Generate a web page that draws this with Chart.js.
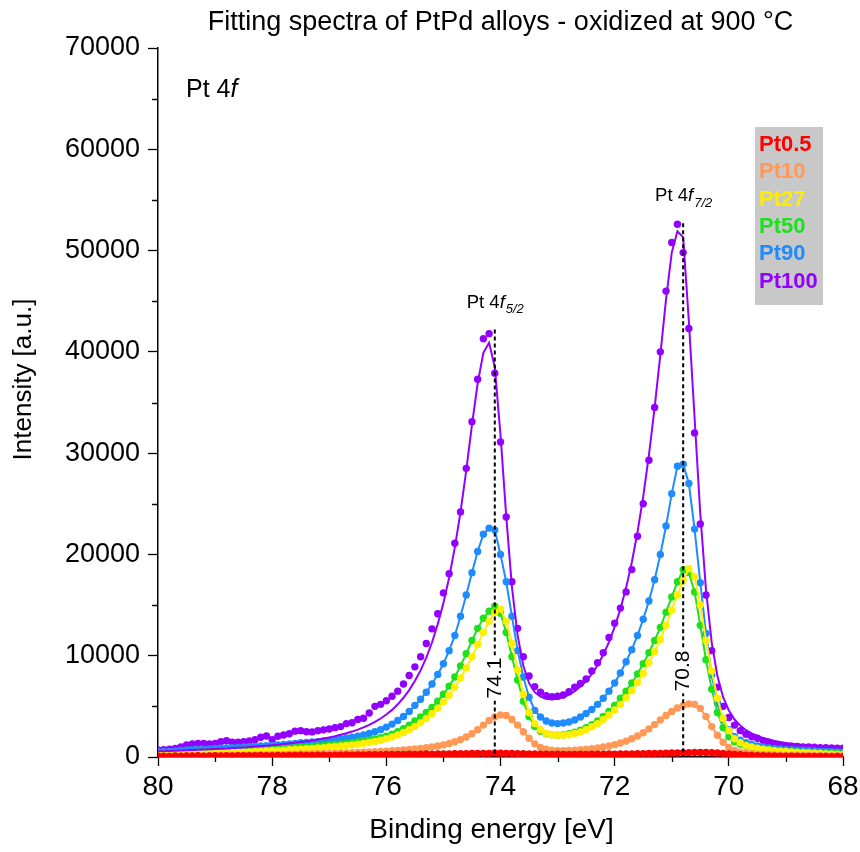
<!DOCTYPE html>
<html>
<head>
<meta charset="utf-8">
<title>Pt 4f spectra</title>
<script src="https://cdn.jsdelivr.net/npm/chart.js@4.4.1/dist/chart.umd.min.js"></script>
<style>
    body { margin: 0; background: #fff; }
    canvas { display: block; }
</style>
</head>
<body>
<canvas id="spectraChart" width="860" height="852"></canvas>
<script>
const FONT = "'Liberation Sans', Arial, sans-serif";

// Binding energy grid (eV), 0.1 eV steps
const energy = [
    80.0, 79.9, 79.8, 79.7, 79.6, 79.5, 79.4, 79.3, 79.2, 79.1,
    79.0, 78.9, 78.8, 78.7, 78.6, 78.5, 78.4, 78.3, 78.2, 78.1,
    78.0, 77.9, 77.8, 77.7, 77.6, 77.5, 77.4, 77.3, 77.2, 77.1,
    77.0, 76.9, 76.8, 76.7, 76.6, 76.5, 76.4, 76.3, 76.2, 76.1,
    76.0, 75.9, 75.8, 75.7, 75.6, 75.5, 75.4, 75.3, 75.2, 75.1,
    75.0, 74.9, 74.8, 74.7, 74.6, 74.5, 74.4, 74.3, 74.2, 74.1,
    74.0, 73.9, 73.8, 73.7, 73.6, 73.5, 73.4, 73.3, 73.2, 73.1,
    73.0, 72.9, 72.8, 72.7, 72.6, 72.5, 72.4, 72.3, 72.2, 72.1,
    72.0, 71.9, 71.8, 71.7, 71.6, 71.5, 71.4, 71.3, 71.2, 71.1,
    71.0, 70.9, 70.8, 70.7, 70.6, 70.5, 70.4, 70.3, 70.2, 70.1,
    70.0, 69.9, 69.8, 69.7, 69.6, 69.5, 69.4, 69.3, 69.2, 69.1,
    69.0, 68.9, 68.8, 68.7, 68.6, 68.5, 68.4, 68.3, 68.2, 68.1,
    68.0
];

// Measured intensities, one row per 2 eV block (80.0-78.1, 78.0-76.1, ..., 70.0-68.0)
const pt05 = [
    80, 90, 60, 100, 90, 110, 100, 120, 90, 110, 120, 100, 130, 110, 120, 140, 120, 130, 150, 130,
    140, 150, 140, 160, 150, 170, 150, 160, 180, 170, 160, 190, 180, 200, 190, 210, 200, 220, 230, 220,
    240, 250, 240, 260, 270, 260, 280, 290, 280, 300, 310, 300, 320, 330, 320, 340, 350, 340, 360, 380,
    370, 360, 350, 330, 320, 300, 290, 280, 270, 260, 270, 260, 250, 260, 270, 260, 270, 280, 270, 290,
    280, 300, 310, 300, 320, 330, 340, 350, 360, 380, 390, 400, 420, 430, 440, 450, 440, 420, 390, 350,
    300, 260, 220, 190, 160, 140, 130, 110, 100, 90, 80, 80, 70, 60, 60, 50, 60, 50, 40, 50, 40
];
const pt10 = [
    80, 90, 100, 100, 110, 120, 120, 130, 140, 140, 150, 160, 160, 170, 180, 190, 200, 210, 220, 230,
    240, 250, 260, 270, 280, 290, 300, 320, 330, 350, 360, 380, 390, 410, 430, 450, 470, 490, 520, 550,
    580, 610, 650, 690, 740, 790, 850, 920, 1000, 1090, 1200, 1340, 1510, 1720, 1980, 2300, 2700, 3150, 3600, 3950,
    4150, 4100, 3700, 3150, 2500, 1850, 1300, 950, 760, 660, 620, 620, 640, 670, 710, 760, 820, 890, 980, 1090,
    1220, 1380, 1570, 1800, 2080, 2400, 2780, 3200, 3650, 4100, 4500, 4850, 5100, 5250, 5200, 4800, 4000, 3000, 2150, 1450,
    950, 650, 480, 380, 320, 280, 250, 230, 210, 200, 190, 180, 170, 160, 160, 150, 150, 140, 140, 130, 130
];
const pt27 = [
    200, 210, 230, 250, 270, 290, 300, 320, 340, 360, 380, 400, 420, 440, 460, 490, 510, 540, 560, 590,
    620, 650, 680, 710, 740, 780, 810, 850, 890, 930, 980, 1030, 1080, 1140, 1200, 1270, 1350, 1440, 1540, 1660,
    1800, 1980, 2180, 2420, 2700, 3020, 3380, 3800, 4280, 4820, 5420, 6100, 6900, 7800, 8800, 9900, 11100, 12300, 13400, 14300,
    14600, 13400, 11200, 8600, 6200, 4400, 3300, 2700, 2350, 2200, 2150, 2150, 2200, 2320, 2480, 2700, 2980, 3300, 3700, 4150,
    4650, 5200, 5850, 6550, 7350, 8250, 9300, 10400, 11600, 13000, 14500, 16000, 17400, 18600, 17800, 15000, 11500, 8500, 5800, 3800,
    2600, 1800, 1400, 1150, 980, 860, 760, 690, 630, 580, 540, 500, 460, 430, 400, 370, 340, 310, 280, 250, 230
];
const pt50 = [
    330, 350, 370, 390, 410, 430, 450, 470, 500, 520, 540, 560, 590, 610, 630, 660, 690, 710, 740, 770,
    800, 830, 860, 890, 930, 960, 1000, 1040, 1090, 1130, 1180, 1230, 1290, 1350, 1420, 1500, 1580, 1670, 1780, 1900,
    2050, 2250, 2500, 2800, 3150, 3550, 3950, 4400, 4900, 5500, 6200, 7000, 7900, 9000, 10200, 11500, 12700, 13700, 14400, 14900,
    14200, 12300, 9900, 7600, 5500, 4000, 3000, 2550, 2300, 2200, 2150, 2200, 2300, 2450, 2650, 2900, 3200, 3550, 4000, 4500,
    5100, 5800, 6500, 7300, 8200, 9200, 10300, 11500, 12800, 14300, 15800, 17300, 18500, 18200, 16300, 13000, 9600, 6700, 4400, 2900,
    2000, 1500, 1250, 1080, 950, 850, 780, 720, 670, 620, 580, 550, 520, 490, 470, 450, 430, 410, 390, 380, 360
];
const pt90 = [
    520, 540, 560, 590, 640, 690, 720, 740, 770, 800, 840, 870, 900, 920, 950, 980, 1010, 1050, 1090, 1120,
    1150, 1200, 1250, 1300, 1350, 1400, 1440, 1480, 1520, 1580, 1640, 1700, 1780, 1870, 1960, 2060, 2180, 2330, 2500, 2700,
    2950, 3250, 3600, 4000, 4500, 5100, 5700, 6400, 7200, 8150, 9200, 10500, 12000, 13900, 16000, 18200, 20300, 22000, 22600, 22400,
    20000, 17300, 13900, 10500, 7900, 5900, 4600, 3950, 3550, 3350, 3300, 3350, 3450, 3650, 3950, 4300, 4700, 5200, 5800, 6500,
    7300, 8300, 9400, 10600, 12000, 13600, 15400, 17500, 20000, 22800, 26000, 28700, 28900, 27000, 22500, 17200, 12200, 8100, 5300, 3700,
    2700, 2000, 1650, 1400, 1250, 1100, 1000, 920, 850, 800, 750, 720, 690, 660, 640, 620, 600, 580, 560, 550, 530
];
const pt100 = [
    690, 720, 780, 850, 1000, 1200, 1300, 1350, 1330, 1280, 1350, 1500, 1600, 1450, 1450, 1500, 1580, 1700, 1950, 2070,
    1700, 2050, 2170, 2300, 2550, 2600, 2500, 2480, 2600, 2680, 2760, 2900, 3000, 3300, 3380, 3700, 3820, 4350, 5000, 5200,
    5550, 6000, 6500, 7200, 8050, 8900, 9900, 11200, 12650, 14150, 16200, 18100, 21100, 24200, 28500, 33100, 37300, 41300, 41800, 37900,
    31100, 23700, 17300, 12700, 9900, 8000, 6950, 6400, 6050, 5950, 6000, 6120, 6450, 6900, 7250, 7700, 8500, 9300, 10300, 11800,
    13200, 14700, 16300, 18500, 21800, 25000, 29300, 34500, 40000, 46000, 50800, 52600, 49800, 42300, 32000, 23000, 16000, 10500, 6900, 5000,
    3900, 3150, 2600, 2250, 2000, 1850, 1620, 1450, 1300, 1200, 1100, 1060, 1030, 1000, 980, 960, 930, 910, 890, 870, 860
];

// Fitted envelope for Pt100
const pt100Fit = [
    560, 580, 600, 620, 640, 660, 690, 710, 740, 760, 790, 820, 850, 880, 920, 950, 990, 1030, 1080, 1120,
    1170, 1220, 1280, 1340, 1400, 1470, 1550, 1630, 1720, 1820, 1930, 2050, 2190, 2340, 2510, 2700, 2920, 3170, 3460, 3800,
    4200, 4650, 5200, 5850, 6600, 7500, 8550, 9800, 11300, 13100, 15200, 17700, 20700, 24200, 28300, 32800, 36900, 39900, 40900, 38500,
    31800, 23800, 16800, 12000, 9000, 7300, 6400, 5950, 5750, 5700, 5750, 5900, 6150, 6500, 6950, 7500, 8200, 9050, 10100, 11350,
    12850, 14600, 16700, 19200, 22200, 25700, 29800, 34500, 39700, 45200, 49800, 51900, 51300, 43000, 33500, 24000, 16500, 11300, 8000, 5900,
    4600, 3700, 3100, 2650, 2330, 2080, 1880, 1720, 1590, 1480, 1390, 1310, 1240, 1180, 1130, 1080, 1040, 1000, 970, 940, 910
];

const sampleNames = ["Pt0.5", "Pt10", "Pt27", "Pt50", "Pt90", "Pt100"];
const sampleColors = ["#ff0000", "#ff9955", "#ffee00", "#1ee01e", "#1e8cff", "#9400ff"];
const sampleValues = [pt05, pt10, pt27, pt50, pt90, pt100];

// Peak positions (eV) marked with dashed lines, and the intensity where each line starts
const peakEnergy = [74.1, 70.8];
const peakLineTop = [42200, 52700];
const peakLabelAt = [7800, 8500];
const peakSub = ["5/2", "7/2"];

const xTicks = { min: 68, max: 80, step: 2 };
const yTicks = { min: 0, max: 70000, step: 10000 };

const xTitle = "Binding energy [eV]";
const yTitle = "Intensity [a.u.]";

function toPoints(values) {
    return energy.map((e, i) => ({ x: e, y: values[i] }));
}

// Minor tick marks between the labelled ones
const minorTicks = {
    id: "minorTicks",
    afterDraw(chart) {
        const { ctx, chartArea, scales: { x, y } } = chart;
        ctx.save();
        ctx.strokeStyle = "#000";
        ctx.lineWidth = 1.3;
        ctx.beginPath();
        for (let v = xTicks.min + 1; v < xTicks.max; v += 2) {
            const px = Math.round(x.getPixelForValue(v)) + 0.5;
            ctx.moveTo(px, chartArea.bottom);
            ctx.lineTo(px, chartArea.bottom + 5);
        }
        for (let v = yTicks.min + 5000; v < yTicks.max; v += 10000) {
            const py = Math.round(y.getPixelForValue(v)) + 0.5;
            ctx.moveTo(chartArea.left, py);
            ctx.lineTo(chartArea.left - 6, py);
        }
        ctx.stroke();
        ctx.restore();
    }
};

// Axis titles, placed a little off the plot centre
const axisTitles = {
    id: "axisTitles",
    afterDraw(chart) {
        const { ctx, chartArea } = chart;
        ctx.save();
        ctx.fillStyle = "#000";
        ctx.textAlign = "center";
        ctx.textBaseline = "middle";
        ctx.font = "28px " + FONT;
        ctx.fillText(xTitle, (chartArea.left + chartArea.right) / 2 - 9, chart.height - 22);
        ctx.translate(24, (chartArea.top + chartArea.bottom) / 2 - 23);
        ctx.rotate(-Math.PI / 2);
        ctx.font = "26px " + FONT;
        ctx.fillText(yTitle, 0, 0);
        ctx.restore();
    }
};

// "Pt 4f" with italic f and optional subscript, centred on cx
function drawOrbital(ctx, cx, baseline, size, sub, align) {
    const parts = [
        { t: "Pt 4", f: size + "px " + FONT, dy: 0 },
        { t: "f", f: "italic " + size + "px " + FONT, dy: 0 }
    ];
    if (sub) parts.push({ t: sub, f: "italic " + Math.round(size * 0.72) + "px " + FONT, dy: size * 0.3 });
    let total = 0;
    parts.forEach(p => { ctx.font = p.f; p.w = ctx.measureText(p.t).width; total += p.w; });
    let x0 = align === "left" ? cx : cx - total / 2;
    ctx.textBaseline = "alphabetic";
    ctx.textAlign = "left";
    parts.forEach(p => {
        ctx.font = p.f;
        ctx.fillText(p.t, x0, baseline + p.dy);
        x0 += p.w + (p.t === "f" ? 1 : 0);
    });
}

const peakMarks = {
    id: "peakMarks",
    afterDatasetsDraw(chart) {
        const { ctx, chartArea, scales: { x, y } } = chart;
        ctx.save();
        ctx.fillStyle = "#000";
        peakEnergy.forEach((e, i) => {
            const px = x.getPixelForValue(e);
            const top = y.getPixelForValue(peakLineTop[i]);
            ctx.strokeStyle = "#000";
            ctx.lineWidth = 2;
            ctx.setLineDash([4, 3]);
            ctx.beginPath();
            ctx.moveTo(px, top);
            ctx.lineTo(px, chartArea.bottom);
            ctx.stroke();
            ctx.setLineDash([]);

            // value written along the line on a white patch
            const ly = y.getPixelForValue(peakLabelAt[i]);
            ctx.save();
            ctx.translate(px, ly);
            ctx.rotate(-Math.PI / 2);
            ctx.font = "21px " + FONT;
            const label = e.toFixed(1);
            const w = ctx.measureText(label).width;
            ctx.fillStyle = "#fff";
            ctx.fillRect(-w / 2 - 2, -11, w + 4, 20);
            ctx.fillStyle = "#000";
            ctx.textAlign = "center";
            ctx.textBaseline = "middle";
            ctx.fillText(label, 0, 0);
            ctx.restore();

            drawOrbital(ctx, px, top - 22, 18.5, peakSub[i], "center");
        });
        drawOrbital(ctx, chartArea.left + 28, chartArea.top + 49, 25, null, "left");
        ctx.restore();
    }
};

// Grey box with the sample names in their colours
const sampleLegend = {
    id: "sampleLegend",
    afterDraw(chart) {
        const { ctx } = chart;
        ctx.save();
        ctx.fillStyle = "#c8c8c8";
        ctx.fillRect(755, 127, 68, 178);
        ctx.font = "bold 22px " + FONT;
        ctx.textAlign = "left";
        ctx.textBaseline = "middle";
        sampleNames.forEach((name, i) => {
            ctx.fillStyle = sampleColors[i];
            ctx.fillText(name, 759, 145 + i * 27.3);
        });
        ctx.restore();
    }
};

document.addEventListener("DOMContentLoaded", () => {
    Chart.defaults.font.family = FONT;
    Chart.defaults.color = "#000";

    const datasets = sampleValues.map((values, i) => ({
        label: sampleNames[i],
        data: toPoints(values),
        showLine: i !== 5,
        borderColor: sampleColors[i],
        backgroundColor: sampleColors[i],
        borderWidth: 2,
        pointRadius: 3.7,
        pointBorderWidth: 0,
        pointBackgroundColor: sampleColors[i]
    }));
    datasets.push({
        label: "Pt100 fit",
        data: toPoints(pt100Fit),
        showLine: true,
        borderColor: sampleColors[5],
        borderWidth: 2,
        pointRadius: 0,
        order: -1
    });

    new Chart(document.getElementById("spectraChart"), {
        type: "scatter",
        data: { datasets: datasets },
        options: {
            responsive: false,
            animation: false,
            layout: { padding: { top: 2, right: 17, bottom: 0, left: 0 } },
            plugins: {
                legend: { display: false },
                tooltip: { enabled: false },
                title: {
                    display: true,
                    fullSize: false,
                    text: "Fitting spectra of PtPd alloys - oxidized at 900 \u00B0C",
                    color: "#000",
                    font: { size: 27, weight: "normal" },
                    padding: { top: 4, bottom: 9.6 }
                }
            },
            scales: {
                x: {
                    type: "linear",
                    reverse: true,
                    min: xTicks.min,
                    max: xTicks.max,
                    ticks: { stepSize: xTicks.step, font: { size: 28 }, color: "#000", padding: 4, maxRotation: 0 },
                    grid: { drawOnChartArea: false, color: "#000", tickLength: 9, tickWidth: 1.3 },
                    border: { color: "#000", width: 1.5 },
                    afterFit(scale) {
                        scale.height = 95;
                        scale.paddingLeft = 0;
                        scale.paddingRight = 0;
                    }
                },
                y: {
                    min: yTicks.min,
                    max: yTicks.max,
                    ticks: { stepSize: yTicks.step, font: { size: 27 }, color: "#000", padding: 8, callback: v => String(v) },
                    grid: { drawOnChartArea: false, color: "#000", tickLength: 10, tickWidth: 1.3 },
                    border: { color: "#000", width: 1.5 },
                    afterFit(scale) {
                        scale.width = 158;
                        scale.paddingTop = 0;
                        scale.paddingBottom = 0;
                    }
                }
            }
        },
        plugins: [minorTicks, axisTitles, peakMarks, sampleLegend]
    });
});
</script>
</body>
</html>
